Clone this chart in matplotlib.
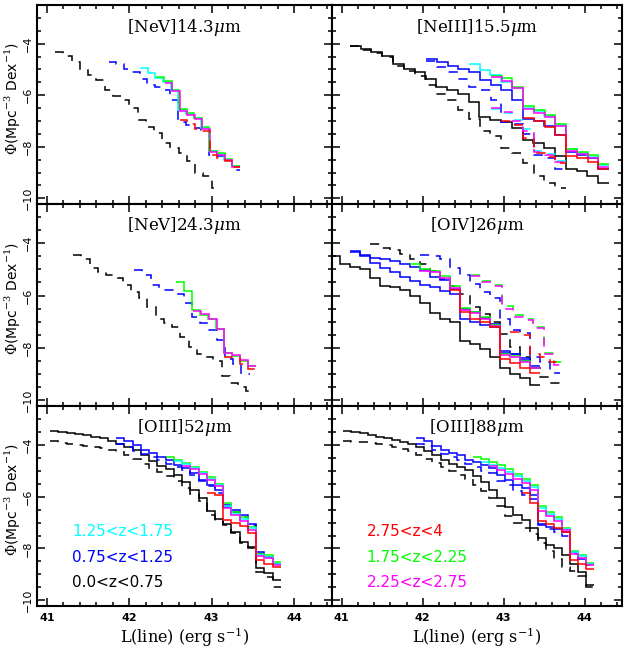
import numpy as np
import matplotlib
matplotlib.use("Agg")
import matplotlib.pyplot as plt
from matplotlib.ticker import MultipleLocator

plt.rcParams["mathtext.fontset"] = "dejavuserif"

# each series: (log L at first bin edge, log L at last bin edge, log Phi per bin)

# [NeV]14.3um
nev14_k_dash = (41.10, 43.10, [-4.33, -4.46, -4.72, -5.04, -5.23, -5.42, -5.81, -6.03, -6.19, -6.51,
                                -6.96, -7.22, -7.47, -7.86, -8.05, -8.24, -8.56, -9.01, -9.14, -9.59])
nev14_b_dash = (41.75, 43.34, [-4.72, -4.80, -4.99, -5.10, -5.36, -5.62, -5.70, -5.81, -6.19, -7.03,
                                -7.16, -7.28, -7.35, -8.31, -8.35, -8.50, -8.90])
nev14_c = (42.13, 43.34, [-4.95, -5.14, -5.32, -5.49, -5.81, -6.58, -6.71, -6.90, -7.28, -8.18,
                          -8.27, -8.50, -8.76])
nev14_g = (42.33, 43.34, [-5.30, -5.46, -5.80, -6.55, -6.68, -6.87, -7.25, -8.15, -8.24, -8.47, -8.74])
nev14_m = (42.43, 43.34, [-5.52, -5.85, -6.62, -6.75, -6.93, -7.30, -8.22, -8.32, -8.52, -8.80])
nev14_r_dash = (42.61, 43.34, [-6.96, -7.12, -7.30, -7.40, -8.30, -8.42, -8.55, -8.80])

# [NeIII]15.5um
ne3_k = (41.10, 44.30, [-4.08, -4.21, -4.33, -4.46, -4.78, -4.97, -5.10, -5.36, -5.68, -5.81, -5.94, -6.26,
                        -6.83, -6.96, -7.03, -7.28, -7.73, -7.86, -8.05, -8.37, -8.88, -8.95, -9.14, -9.40])
ne3_k_dash = (41.10, 43.77, [-4.10, -4.25, -4.38, -4.50, -4.85, -5.05, -5.25, -5.62, -5.94, -6.19,
                             -6.58, -6.91, -7.40, -7.60, -8.05, -8.24, -8.63, -9.14, -9.40, -9.59])
ne3_b = (42.04, 44.30, [-4.59, -4.72, -4.85, -4.97, -5.10, -5.42, -5.62, -5.81, -6.19, -6.91, -7.00,
                        -7.20, -7.54, -8.20, -8.30, -8.45, -8.85])
ne3_b_dash = (42.04, 43.77, [-4.66, -4.91, -5.10, -5.36, -5.68, -5.81, -6.19, -7.03, -7.10, -7.50,
                             -8.30, -8.45, -8.85])
ne3_c = (42.57, 44.30, [-4.78, -5.04, -5.23, -5.49, -5.71, -6.50, -6.62, -6.81, -7.17, -8.10, -8.24,
                        -8.40, -8.70])
ne3_g = (42.84, 44.30, [-5.25, -5.33, -5.68, -6.43, -6.56, -6.75, -7.12, -8.10, -8.20, -8.33, -8.68])
ne3_m = (42.84, 44.30, [-5.30, -5.45, -5.72, -6.55, -6.68, -6.85, -7.18, -8.17, -8.28, -8.45, -8.78])
ne3_r = (43.24, 44.30, [-6.90, -7.00, -7.25, -7.55, -8.35, -8.45, -8.60, -8.88])
ne3_c_dash = (42.84, 43.77, [-6.55, -6.68, -6.95, -7.30, -8.15, -8.28, -8.55])
ne3_m_dash = (42.84, 43.77, [-6.50, -6.65, -7.00, -7.40, -8.20, -8.30, -8.60])
ne3_r_dash = (42.97, 43.77, [-7.00, -7.15, -7.65, -8.25, -8.40, -8.62])

# [NeV]24.3um
nev24_k_dash = (41.32, 43.52, [-4.43, -4.62, -4.94, -5.10, -5.20, -5.33, -5.59, -5.85, -6.10, -6.43, -6.88,
                               -7.04, -7.20, -7.59, -7.98, -8.23, -8.36, -8.49, -9.07, -9.33, -9.50, -9.65])
nev24_b_dash = (42.06, 43.46, [-5.01, -5.20, -5.59, -5.78, -5.80, -5.95, -6.30, -6.80, -7.06, -7.32,
                               -7.71, -8.42, -8.62, -9.00])
nev24_g = (42.57, 43.54, [-5.49, -5.82, -6.56, -6.75, -6.88, -7.27, -8.20, -8.30, -8.49, -8.71])
nev24_m = (42.77, 43.54, [-6.60, -6.72, -6.88, -7.27, -8.18, -8.28, -8.45, -8.71])
nev24_r_dash = (43.15, 43.54, [-8.33, -8.40, -8.62, -8.81])

# [OIV]26um
oiv_k = (40.86, 43.45, [-4.49, -4.81, -4.91, -5.00, -5.33, -5.65, -5.69, -5.78, -6.01, -6.30, -6.68,
                        -6.88, -7.01, -7.72, -7.85, -8.04, -8.36, -8.75, -9.01, -9.14, -9.40])
oiv_k_dash = (41.35, 43.69, [-4.04, -4.18, -4.25, -4.40, -4.60, -4.80, -5.05, -5.36, -5.65, -5.94,
                             -6.45, -6.70, -7.00, -7.46, -7.98, -8.36, -8.75, -9.10, -9.33])
oiv_b_hi = (41.10, 43.45, [-4.30, -4.43, -4.56, -4.62, -4.69, -4.81, -4.91, -5.04, -5.30, -5.40, -5.75,
                           -6.50, -6.62, -6.85, -7.10, -8.20, -8.25, -8.45, -8.70])
oiv_b_lo = (41.10, 43.45, [-4.32, -4.50, -4.75, -4.95, -5.10, -5.30, -5.45, -5.60, -5.68, -5.81, -5.95,
                           -6.88, -7.01, -7.14, -7.20, -8.10, -8.25, -8.40, -8.75])
oiv_g = (41.84, 43.45, [-4.81, -5.00, -5.07, -5.27, -5.65, -6.49, -6.62, -6.81, -7.14, -8.23, -8.30,
                        -8.49, -8.75])
oiv_m = (41.96, 43.45, [-5.05, -5.10, -5.32, -5.70, -6.55, -6.68, -6.88, -7.18, -8.28, -8.35, -8.52, -8.78])
oiv_r = (42.33, 43.45, [-5.78, -6.62, -6.88, -7.01, -7.20, -8.43, -8.56, -8.75, -8.94])
oiv_b_dash = (41.97, 43.69, [-4.45, -4.49, -4.60, -4.95, -5.20, -5.55, -5.85, -6.10, -6.90, -7.30,
                             -7.42, -8.35, -8.55, -8.95])
oiv_g_dash = (42.60, 43.75, [-5.20, -5.45, -5.59, -6.40, -6.75, -6.88, -7.20, -8.20, -8.55])
oiv_m_dash = (42.60, 43.75, [-5.25, -5.50, -5.65, -6.50, -6.80, -6.95, -7.25, -8.25, -8.65])
oiv_r_dash = (43.08, 43.69, [-7.40, -7.50, -8.25, -8.35, -8.55])

# [OIII]52um
o52_k = (41.04, 43.84, [-3.48, -3.50, -3.53, -3.57, -3.62, -3.68, -3.75, -3.85, -3.95, -4.08, -4.20,
                        -4.38, -4.62, -4.80, -4.92, -5.15, -5.45, -5.75, -6.05, -6.55, -6.85, -7.05,
                        -7.35, -7.75, -7.95, -8.75, -8.95, -9.20])
o52_k_dash = (41.04, 43.84, [-3.87, -3.92, -3.96, -4.00, -4.04, -4.08, -4.13, -4.20, -4.28, -4.40, -4.55,
                             -4.75, -4.92, -5.05, -5.20, -5.40, -5.65, -5.90, -6.15, -6.70, -6.95, -7.10,
                             -7.40, -7.80, -8.00, -8.90, -9.10, -9.50])
o52_b = (41.84, 43.84, [-3.74, -3.87, -4.00, -4.19, -4.32, -4.45, -4.58, -4.78, -4.91, -5.10, -5.36,
                        -5.55, -5.75, -6.33, -6.52, -6.71, -7.04, -8.13, -8.32, -8.58])
o52_b_dash = (41.84, 43.84, [-3.98, -4.10, -4.22, -4.35, -4.47, -4.60, -4.75, -4.85, -4.98, -5.18, -5.38,
                             -5.60, -5.85, -6.40, -6.60, -6.80, -7.10, -8.20, -8.35, -8.62])
o52_g = (42.44, 43.84, [-4.45, -4.57, -4.70, -4.85, -5.03, -5.25, -5.50, -6.26, -6.59, -6.78, -7.17,
                        -8.20, -8.26, -8.52])
o52_c = (42.54, 43.84, [-4.62, -4.75, -4.90, -5.08, -5.30, -5.55, -6.35, -6.65, -6.85, -7.22, -8.25,
                        -8.32, -8.58])
o52_m = (42.64, 43.84, [-4.80, -4.95, -5.12, -5.35, -5.60, -6.42, -6.72, -6.92, -7.30, -8.28, -8.38, -8.62])
o52_r = (42.94, 43.84, [-5.85, -5.92, -6.91, -7.02, -7.15, -7.40, -8.46, -8.58, -8.72])

# [OIII]88um
o88_k = (41.02, 44.12, [-3.48, -3.52, -3.56, -3.62, -3.68, -3.74, -3.81, -3.88, -3.98, -4.10, -4.22,
                        -4.40, -4.58, -4.72, -4.85, -4.98, -5.20, -5.45, -5.75, -6.05, -6.40, -6.70,
                        -6.90, -7.20, -7.60, -7.85, -8.00, -8.25, -8.60, -8.90, -9.40])
o88_k_dash = (41.02, 44.12, [-3.85, -3.88, -3.90, -3.93, -3.97, -4.02, -4.08, -4.15, -4.25, -4.40, -4.55,
                             -4.70, -4.85, -5.00, -5.15, -5.30, -5.55, -5.80, -6.05, -6.35, -6.75, -7.00,
                             -7.20, -7.45, -7.80, -8.10, -8.40, -8.70, -8.85, -9.05, -9.50])
o88_b = (41.92, 44.12, [-3.74, -3.87, -4.06, -4.19, -4.32, -4.39, -4.58, -4.65, -4.78, -4.91, -5.17,
                        -5.36, -5.55, -5.68, -5.95, -7.04, -7.17, -7.24, -7.37, -8.13, -8.39, -8.58])
o88_b_dash = (41.92, 44.12, [-3.95, -4.05, -4.20, -4.35, -4.45, -4.58, -4.72, -4.85, -5.00, -5.10, -5.40,
                             -5.55, -5.78, -5.95, -6.10, -7.10, -7.25, -7.35, -7.50, -8.20, -8.45, -8.62])
o88_g = (42.62, 44.12, [-4.46, -4.55, -4.65, -4.78, -4.95, -5.12, -5.30, -5.55, -6.35, -6.60, -6.80,
                        -7.20, -8.10, -8.25, -8.55])
o88_c = (42.72, 44.12, [-4.65, -4.78, -4.90, -5.05, -5.22, -5.40, -5.62, -6.45, -6.68, -6.85, -7.25,
                        -8.15, -8.30, -8.60])
o88_m = (42.82, 44.12, [-4.82, -4.98, -5.12, -5.30, -5.48, -5.75, -6.55, -6.75, -6.95, -7.30, -8.20,
                        -8.35, -8.65])
o88_r = (43.22, 44.12, [-5.85, -6.25, -6.95, -7.05, -7.20, -7.35, -8.45, -8.58, -8.80])

K, B, C, G, M, R = "black", "#0000ff", "#00ffff", "#00ff00", "#ff00ff", "#ff0000"
SOLID, DASH = "-", (0, (6, 5))

panels = [
    (r"[NeV]14.3$\mu$m", [(nev14_k_dash, K, DASH), (nev14_b_dash, B, DASH), (nev14_c, C, SOLID),
                          (nev14_g, G, SOLID), (nev14_m, M, SOLID), (nev14_r_dash, R, DASH)]),
    (r"[NeIII]15.5$\mu$m", [(ne3_k_dash, K, DASH), (ne3_k, K, SOLID), (ne3_b_dash, B, DASH),
                            (ne3_b, B, SOLID), (ne3_c_dash, C, DASH), (ne3_m_dash, M, DASH),
                            (ne3_r_dash, R, DASH), (ne3_c, C, SOLID), (ne3_g, G, SOLID),
                            (ne3_m, M, SOLID), (ne3_r, R, SOLID)]),
    (r"[NeV]24.3$\mu$m", [(nev24_k_dash, K, DASH), (nev24_b_dash, B, DASH), (nev24_g, G, SOLID),
                          (nev24_m, M, SOLID), (nev24_r_dash, R, DASH)]),
    (r"[OIV]26$\mu$m", [(oiv_k_dash, K, DASH), (oiv_k, K, SOLID), (oiv_b_dash, B, DASH),
                        (oiv_g_dash, G, DASH), (oiv_m_dash, M, DASH), (oiv_r_dash, R, DASH),
                        (oiv_b_hi, B, SOLID), (oiv_b_lo, B, SOLID), (oiv_g, G, SOLID),
                        (oiv_m, M, SOLID), (oiv_r, R, SOLID)]),
    (r"[OIII]52$\mu$m", [(o52_k_dash, K, DASH), (o52_k, K, SOLID), (o52_b_dash, B, DASH),
                         (o52_b, B, SOLID), (o52_g, G, SOLID), (o52_c, C, SOLID),
                         (o52_m, M, SOLID), (o52_r, R, SOLID)]),
    (r"[OIII]88$\mu$m", [(o88_k_dash, K, DASH), (o88_k, K, SOLID), (o88_b_dash, B, DASH),
                         (o88_b, B, SOLID), (o88_g, G, SOLID), (o88_c, C, SOLID),
                         (o88_m, M, SOLID), (o88_r, R, SOLID)]),
]

legend_left = [("1.25<z<1.75", C), ("0.75<z<1.25", B), ("0.0<z<0.75", K)]
legend_right = [("2.75<z<4", R), ("1.75<z<2.25", G), ("2.25<z<2.75", M)]

fig = plt.figure(figsize=(6.26, 6.52), dpi=100)
W, H = 626, 652
cols = [(37, 332), (332, 622)]
rows = [(5, 204), (204, 406), (406, 606)]

for i, (title, series) in enumerate(panels):
    r, c = divmod(i, 2)
    x0, x1 = cols[c]
    y0, y1 = rows[r]
    ax = fig.add_axes([x0 / W, 1 - y1 / H, (x1 - x0) / W, (y1 - y0) / H])
    ax.set_xlim(40.88, 44.46)
    ax.set_ylim(-10.22, -2.5)

    for (lo, hi, vals), color, ls in series:
        edges = np.linspace(lo, hi, len(vals) + 1)
        ax.stairs(vals, edges, baseline=None, color=color, linestyle=ls, lw=1.1)

    ax.text(0.5, 1 - 22 / (y1 - y0), title, transform=ax.transAxes, ha="center", va="center",
            fontsize=12, family="DejaVu Serif")

    ax.xaxis.set_major_locator(MultipleLocator(1))
    ax.xaxis.set_minor_locator(MultipleLocator(0.2))
    ax.yaxis.set_major_locator(MultipleLocator(2))
    ax.yaxis.set_minor_locator(MultipleLocator(0.5))
    ax.tick_params(which="both", direction="in", top=True, right=True, width=1.1)
    ax.tick_params(which="major", length=6)
    ax.tick_params(which="minor", length=3)
    for sp in ax.spines.values():
        sp.set_linewidth(1.5)

    if c == 0:
        ax.set_yticks([-4, -6, -8, -10])
        ax.set_yticklabels(["\u22124", "\u22126", "\u22128", "\u221210"])
        for lab in ax.get_yticklabels():
            lab.set_rotation(90)
            lab.set_va("center")
            lab.set_fontsize(8)
        ax.tick_params(axis="y", pad=3)
        ax.set_ylabel(r"$\Phi$(Mpc$^{-3}$ Dex$^{-1}$)", fontsize=10, family="DejaVu Sans")
        ax.yaxis.label.set_va("center")
        ax.yaxis.set_label_coords(-0.082, 0.53)
    else:
        ax.set_yticklabels([])

    if r == 2:
        ax.set_xticks([41, 42, 43, 44])
        ax.set_xticklabels(["41", "42", "43", "44"], fontsize=8, fontweight="bold")
        ax.tick_params(axis="x", pad=5)
        ax.set_xlabel(r"L(line) (erg s$^{-1}$)", fontsize=11.5, family="DejaVu Serif", labelpad=2)
        legend = legend_left if c == 0 else legend_right
        for k, (txt, col) in enumerate(legend):
            ax.text(0.12, 0.37 - 0.127 * k, txt, transform=ax.transAxes, color=col,
                    fontsize=11, ha="left", va="center", family="DejaVu Sans")
    else:
        ax.set_xticklabels([])

fig.savefig("out.png", dpi=100, facecolor="white")
